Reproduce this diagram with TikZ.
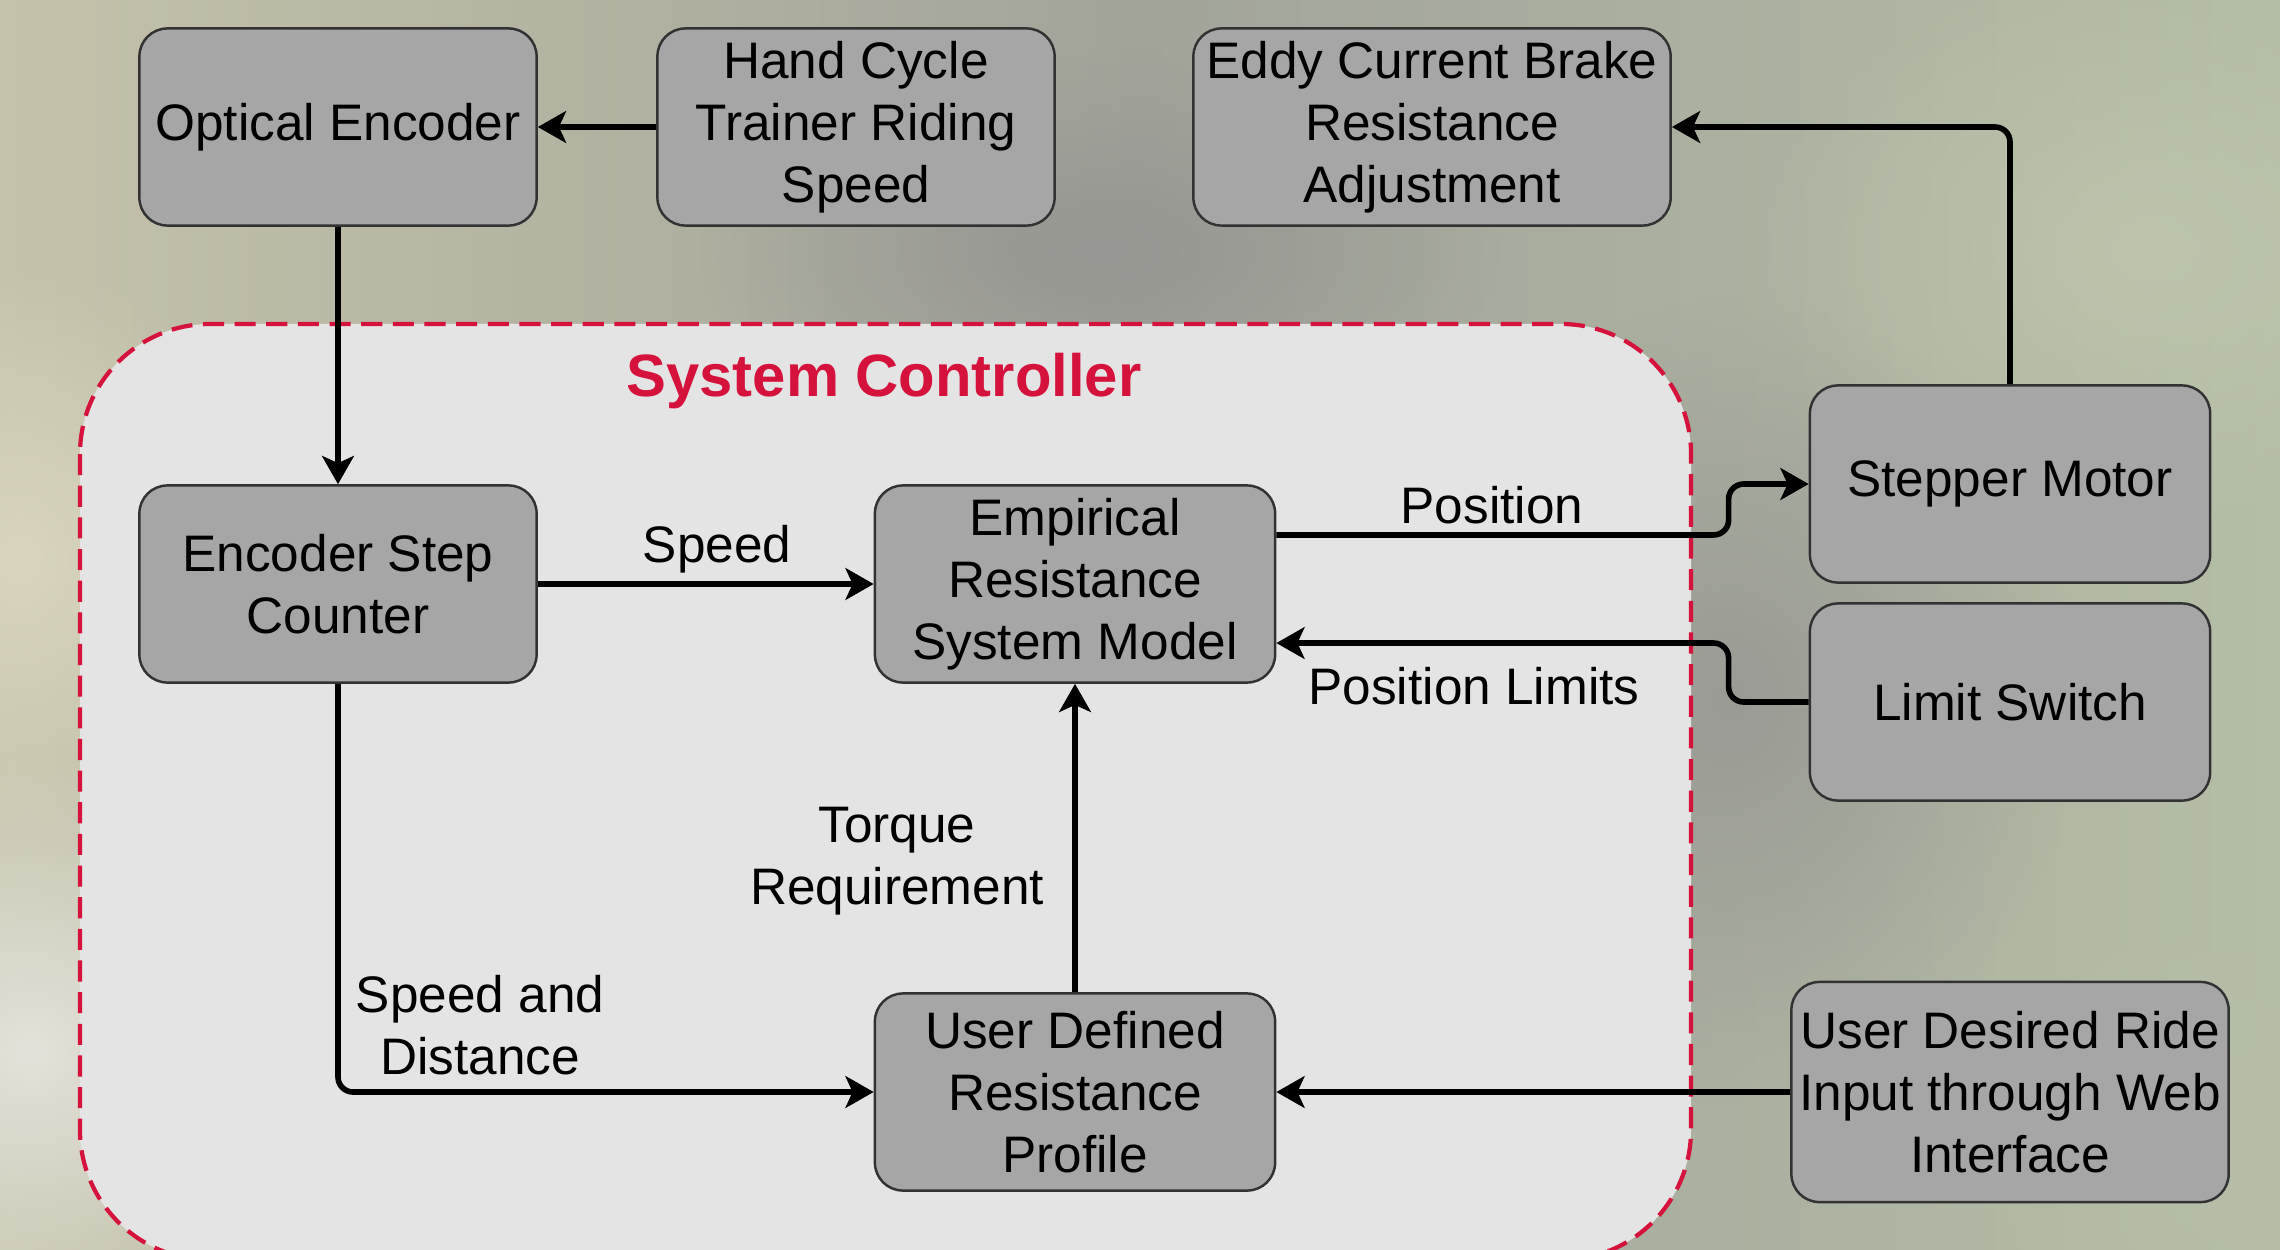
\documentclass[tikz,border=0pt]{standalone}
\usepackage{fontspec}
\setmainfont{Liberation Sans}
\usetikzlibrary{arrows.meta,fadings}

\definecolor{boxgray}{RGB}{166,166,166}
\definecolor{boxline}{RGB}{50,50,50}
\definecolor{ctrlfill}{RGB}{228,228,228}
\definecolor{ctrlred}{RGB}{212,18,60}
\definecolor{bgtan}{RGB}{196,194,170}
\definecolor{bggray}{RGB}{162,164,154}
\definecolor{bggreen}{RGB}{180,189,166}

\tikzfading[name=blob, inner color=transparent!0, outer color=transparent!100]

\begin{document}
\begin{tikzpicture}[x=0.01cm, y=-0.01cm,
  box/.style={draw=boxline, line width=0.7pt, fill=boxgray, rounded corners=0.28cm,
    minimum width=3.97cm, minimum height=1.97cm, align=center, inner sep=1pt,
    font=\fontsize{14.6}{17.6}\selectfont},
  flow/.style={line width=1.6pt, -{Stealth[length=8pt,width=9pt,inset=2pt]}},
  lbl/.style={align=center, inner sep=0pt, font=\fontsize{14.6}{17.6}\selectfont}]

\useasboundingbox (0,0) rectangle (2280,1249);

% background
\shade[left color=bgtan, right color=bggreen, middle color=bggray] (0,0) rectangle (2280,1249);
\fill[color={rgb,255:red,218;green,214;blue,190}, path fading=blob] (20,560) ellipse [x radius=2.5cm, y radius=3cm];
\fill[color={rgb,255:red,228;green,226;blue,218}, path fading=blob] (30,1050) ellipse [x radius=3cm, y radius=3cm];
\fill[color={rgb,255:red,154;green,155;blue,149}, path fading=blob] (1730,700) ellipse [x radius=3.5cm, y radius=4cm];
\fill[color={rgb,255:red,150;green,150;blue,146}, path fading=blob] (1100,250) ellipse [x radius=4cm, y radius=2cm];
\fill[color={rgb,255:red,188;green,196;blue,172}, path fading=blob] (2150,250) ellipse [x radius=4cm, y radius=3cm];
\fill[color={rgb,255:red,182;green,190;blue,170}, path fading=blob] (2250,1150) ellipse [x radius=3cm, y radius=3cm];

% system controller
\draw[ctrlred, line width=1.2pt, dash pattern=on 6pt off 3pt, fill=ctrlfill, rounded corners=1.3cm]
  (80,324) rectangle (1691,1260);
\node[font=\fontsize{17}{20}\selectfont\bfseries, text=ctrlred] (title) at (884,381) {System Controller};

\node[box] (oe) at (338,127) {Optical Encoder};
\node[box] (hc) at (856,127) {Hand Cycle\\Trainer Riding\\Speed};
\node[box, minimum width=4.77cm] (ecb) at (1432,127) {Eddy Current Brake\\Resistance\\Adjustment};
\node[box] (esc) at (338,584) {Encoder Step\\Counter};
\node[box, minimum width=4cm] (emp) at (1075,584) {Empirical\\Resistance\\System Model};
\node[box, minimum width=4cm] (sm) at (2010,484) {Stepper Motor};
\node[box, minimum width=4cm] (ls) at (2010,702) {Limit Switch};
\node[box, minimum width=4cm] (udr) at (1075,1092) {User Defined\\Resistance\\Profile};
\node[box, minimum width=4.37cm, minimum height=2.2cm] (udi) at (2010,1092) {User Desired Ride\\Input through Web\\Interface};

\foreach \from/\to in {hc/oe, oe/esc, esc/emp, udr/emp, udi/udr}
  \draw[flow] (\from) -- (\to);
\draw[flow, rounded corners=0.15cm] (esc.south) |- (udr.west);
\draw[flow, rounded corners=0.15cm] (sm.north) |- (ecb.east);
\draw[flow, rounded corners=0.15cm] ([yshift=0.49cm]emp.east) -| ([xshift=-0.8cm]sm.west) -- (sm.west);
\draw[flow, rounded corners=0.15cm] (ls.west) -- ++(-0.8cm,0) |- ([yshift=-0.59cm]emp.east);

\node[lbl] (speed) at (717,549) {Speed};
\node[lbl] (torque) at (897,861) {Torque\\Requirement};
\node[lbl] (sdist) at (480,1025) {Speed and\\Distance};
\node[lbl] (pos) at (1492,505) {Position};
\node[lbl] (plim) at (1474,686) {Position Limits};
\end{tikzpicture}
\end{document}
